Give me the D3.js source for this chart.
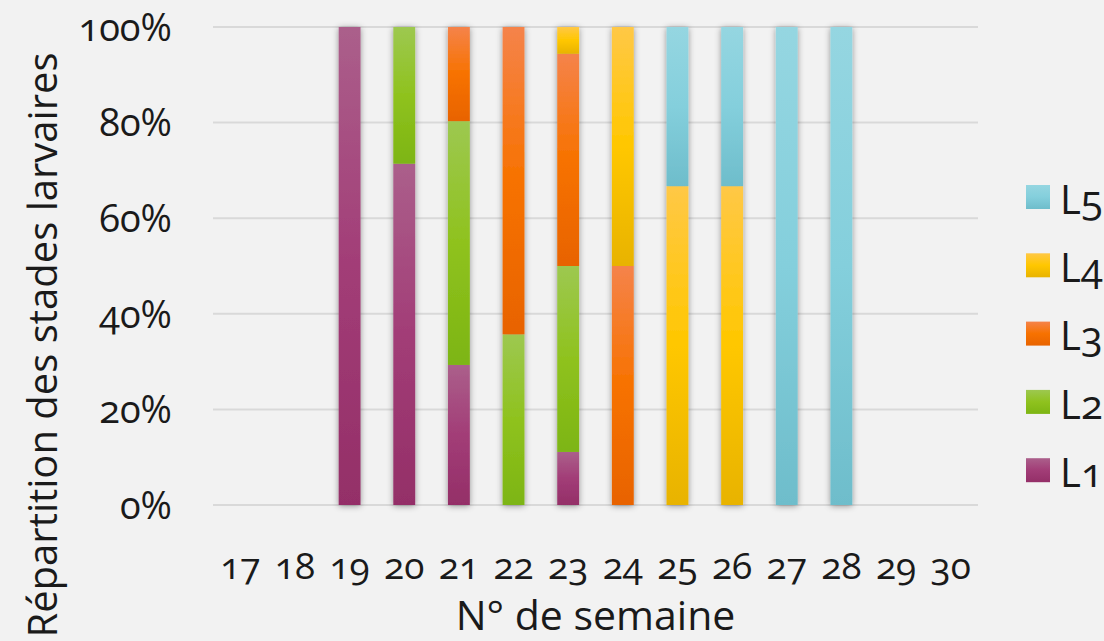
<!DOCTYPE html>
<html lang="fr">
<head>
<meta charset="UTF-8">
<script src="https://d3js.org/d3.v7.min.js"></script>
<title>Stades larvaires</title>
<style>
    body { margin: 0; background: #f2f2f2; }
    svg { display: block; }
    text {
        font-family: "Open Sans", "DejaVu Sans", sans-serif;
        font-variant-numeric: oldstyle-nums;
        fill: #1a1a1a;
    }
</style>
</head>
<body>
<div id="chart"></div>
<script>
    // ---------- data ----------
    const weeks = ["17", "18", "19", "20", "21", "22", "23", "24", "25", "26", "27", "28", "29", "30"];
    const stages = ["L1", "L2", "L3", "L4", "L5"];
    // share of each stage (%) per week, 0 when no larvae
    const L1 = [0, 0, 100, 71.4, 29.3, 0, 11.1, 0, 0, 0, 0, 0, 0, 0];
    const L2 = [0, 0, 0, 28.6, 51, 35.7, 38.9, 0, 0, 0, 0, 0, 0, 0];
    const L3 = [0, 0, 0, 0, 19.7, 64.3, 44.4, 50, 0, 0, 0, 0, 0, 0];
    const L4 = [0, 0, 0, 0, 0, 0, 5.6, 50, 66.7, 66.7, 0, 0, 0, 0];
    const L5 = [0, 0, 0, 0, 0, 0, 0, 0, 33.3, 33.3, 100, 100, 0, 0];
    const yTicks = [0, 20, 40, 60, 80, 100];

    // gradient colours per stage: top, middle, bottom
    const colors = {
        L1: ["#ab5f8b", "#a23d77", "#942f68"],
        L2: ["#9dc850", "#8fc21e", "#7db513"],
        L3: ["#f5834a", "#f77200", "#e86300"],
        L4: ["#ffc846", "#ffc700", "#e8b300"],
        L5: ["#95d6e1", "#84cfdc", "#6ebdcb"]
    };

    const W = 1104, H = 641;
    const plot = { left: 213, right: 978, top: 27, bottom: 505 };

    const table = weeks.map((w, i) => ({ week: w, L1: L1[i], L2: L2[i], L3: L3[i], L4: L4[i], L5: L5[i] }));
    const series = d3.stack().keys(stages)(table);

    const x = d3.scaleBand()
        .domain(weeks)
        .range([plot.left, plot.right])
        .paddingInner(0.6)
        .paddingOuter(0.3);

    const y = d3.scaleLinear()
        .domain([0, 100])
        .range([plot.bottom, plot.top]);

    const svg = d3.select("#chart").append("svg")
        .attr("width", W)
        .attr("height", H);

    const defs = svg.append("defs");
    stages.forEach(s => {
        const g = defs.append("linearGradient")
            .attr("id", "grad-" + s)
            .attr("x1", 0).attr("y1", 0).attr("x2", 0).attr("y2", 1);
        g.append("stop").attr("offset", "0%").attr("stop-color", colors[s][0]);
        g.append("stop").attr("offset", "50%").attr("stop-color", colors[s][1]);
        g.append("stop").attr("offset", "100%").attr("stop-color", colors[s][2]);
    });
    const shadow = defs.append("filter")
        .attr("id", "shadow")
        .attr("x", "-50%").attr("y", "-10%").attr("width", "200%").attr("height", "120%");
    shadow.append("feDropShadow")
        .attr("dx", 0).attr("dy", 1)
        .attr("stdDeviation", 3)
        .attr("flood-color", "#000")
        .attr("flood-opacity", 0.4);

    // gridlines
    svg.append("g")
        .selectAll("line")
        .data(yTicks)
        .join("line")
        .attr("x1", plot.left).attr("x2", plot.right)
        .attr("y1", d => y(d)).attr("y2", d => y(d))
        .attr("stroke", "#d9d9d9")
        .attr("stroke-width", 2);

    // bars, grouped by week so the shadow wraps the whole column
    const cols = svg.append("g")
        .selectAll("g")
        .data(weeks)
        .join("g")
        .attr("filter", "url(#shadow)");

    cols.each(function (w, i) {
        const g = d3.select(this);
        series.forEach(s => {
            const d = s[i];
            if (d[1] - d[0] <= 0) return;
            g.append("rect")
                .attr("x", x(w))
                .attr("width", x.bandwidth())
                .attr("y", y(d[1]))
                .attr("height", y(d[0]) - y(d[1]))
                .attr("fill", "url(#grad-" + s.key + ")");
        });
    });

    // y axis labels
    const yAxis = svg.append("g")
        .attr("transform", `translate(${plot.left},0)`)
        .call(d3.axisLeft(y).tickValues(yTicks).tickFormat(d => d + "%").tickSize(0).tickPadding(41));
    yAxis.select(".domain").remove();
    yAxis.selectAll("text").attr("font-size", 38).attr("dy", "0.35em");

    // x axis labels
    const xAxis = svg.append("g")
        .attr("transform", `translate(0,${plot.bottom})`)
        .call(d3.axisBottom(x).tickSize(0).tickPadding(48));
    xAxis.select(".domain").remove();
    xAxis.selectAll("text").attr("font-size", 37);

    // axis titles
    svg.append("text")
        .attr("x", (plot.left + plot.right) / 2)
        .attr("y", 630)
        .attr("text-anchor", "middle")
        .attr("font-size", 41)
        .text("N° de semaine");

    svg.append("text")
        .attr("transform", "translate(57,345) rotate(-90)")
        .attr("text-anchor", "middle")
        .attr("font-size", 40)
        .text("Répartition des stades larvaires");

    // legend, L5 on top
    const legend = svg.append("g")
        .selectAll("g")
        .data(stages.slice().reverse())
        .join("g")
        .attr("transform", (d, i) => `translate(1026,${185 + i * 68.3})`);
    legend.append("rect")
        .attr("width", 24).attr("height", 24)
        .attr("fill", d => "url(#grad-" + d + ")");
    legend.append("text")
        .attr("x", 34).attr("y", 12)
        .attr("dy", "0.42em")
        .attr("font-size", 40)
        .text(d => d);
</script>
</body>
</html>
